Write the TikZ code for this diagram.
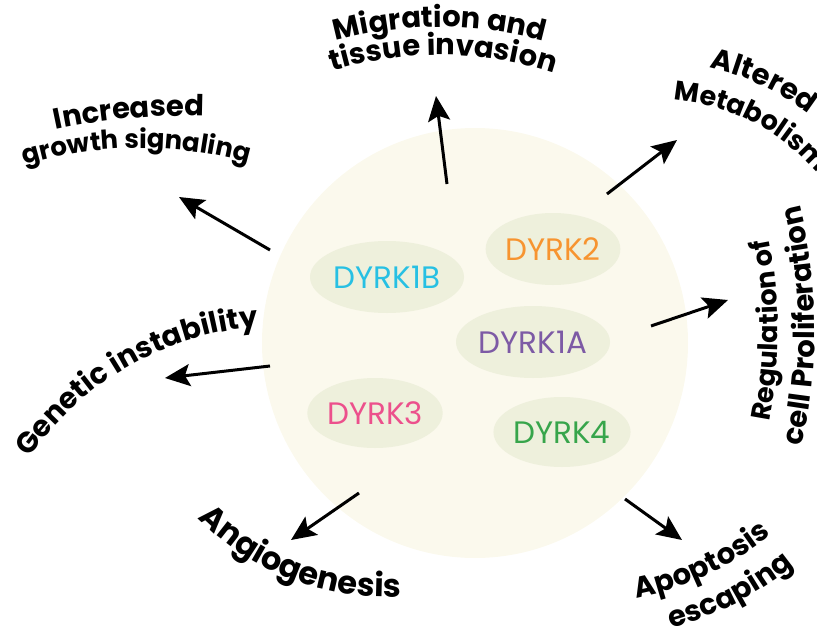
\documentclass[tikz,border=0pt]{standalone}
\usepackage{fontspec}
\setmainfont{Poppins}
\usetikzlibrary{arrows.meta,shapes.geometric,decorations.text}
\definecolor{cellbg}{RGB}{251,249,237}
\definecolor{isoform}{RGB}{238,240,220}
\definecolor{dyrkcyan}{RGB}{39,192,227}
\definecolor{dyrkorange}{RGB}{247,148,48}
\definecolor{dyrkpurple}{RGB}{125,90,165}
\definecolor{dyrkpink}{RGB}{236,80,140}
\definecolor{dyrkgreen}{RGB}{55,165,75}
\newcommand\labfont[1]{\fontsize{#1}{#1}\selectfont\bfseries}

\begin{document}
\begin{tikzpicture}[x=1pt, y=-1pt, >={Stealth[length=25pt,width=22pt,inset=5pt]},
  hub/.style={ellipse, fill=cellbg, minimum width=426, minimum height=430, inner sep=0},
  iso/.style={ellipse, fill=isoform, inner sep=0, minimum height=72, font=\fontsize{31}{34}\selectfont},
  arr/.style={->, line width=3pt},
  lab/.style 2 args={decorate, decoration={text along path, text align=center, text={|\labfont{#1}|#2}}}]
\useasboundingbox (0,0) rectangle (817,634);
\clip (0,0) rectangle (817,634);
\node[hub] (cell) at (475,343) {};
\node[iso, minimum width=154, text=dyrkcyan] (d1b) at (387,277) {DYRK1B};
\node[iso, minimum width=132, text=dyrkorange] (d2) at (553,249) {DYRK2};
\node[iso, minimum width=154, text=dyrkpurple] (d1a) at (533,342) {DYRK1A};
\node[iso, minimum width=126, minimum height=70, text=dyrkpink] (d3) at (375,413) {DYRK3};
\node[iso, minimum width=126, minimum height=70, text=dyrkgreen] (d4) at (562,432) {DYRK4};
% arrows out of the cell
\coordinate (s1) at (447,184); \coordinate (t1) at (436,96);
\coordinate (s2) at (607,194); \coordinate (t2) at (677,140);
\coordinate (s3) at (651,326); \coordinate (t3) at (728,300);
\coordinate (s4) at (625,499); \coordinate (t4) at (682,540);
\coordinate (s5) at (359,493); \coordinate (t5) at (291,540);
\coordinate (s6) at (270,366); \coordinate (t6) at (165,378);
\coordinate (s7) at (270,250); \coordinate (t7) at (179,197);
\foreach \i in {1,...,7}\draw[arr] (s\i) -- (t\i);
% curved labels
\path[lab={29}{Migration and}] (440,420) ++(-135:393) arc[start angle=-135, end angle=-45, radius=393];
\path[lab={29}{tissue invasion}] (440,420) ++(-134.5:365) arc[start angle=-134.5, end angle=-44.5, radius=365];
\path[lab={29}{Increased}] (182,716) ++(-115:600) arc[start angle=-115, end angle=-75, radius=600];
\path[lab={26}{growth signaling}] (140,546) ++(-125.5:398) arc[start angle=-125.5, end angle=-55.5, radius=398];
\path[lab={29}{Altered}] (656,312) ++(-110:250) arc[start angle=-110, end angle=-20, radius=250];
\path[lab={27}{Metabolism}] (656,312) ++(-113:213) arc[start angle=-113, end angle=-13, radius=213];
\path[lab={27}{Regulation of}] (300,330) ++(25:478) arc[start angle=25, end angle=-25, radius=478];
\path[lab={29}{cell Proliferation}] (300,330) ++(24.5:515) arc[start angle=24.5, end angle=-25.5, radius=515];
\path[lab={29}{Apoptosis}] (581,303) ++(100:300) arc[start angle=100, end angle=30, radius=300];
\path[lab={29}{escaping}] (581,303) ++(97.7:338) arc[start angle=97.7, end angle=27.7, radius=338];
\path[lab={32}{Angiogenesis}] (385,335) ++(156:262) arc[start angle=156, end angle=66, radius=262];
\path[lab={29}{Genetic instability}] (281,632) ++(-164.8:306) arc[start angle=-164.8, end angle=-74.8, radius=306];
\end{tikzpicture}
\end{document}
